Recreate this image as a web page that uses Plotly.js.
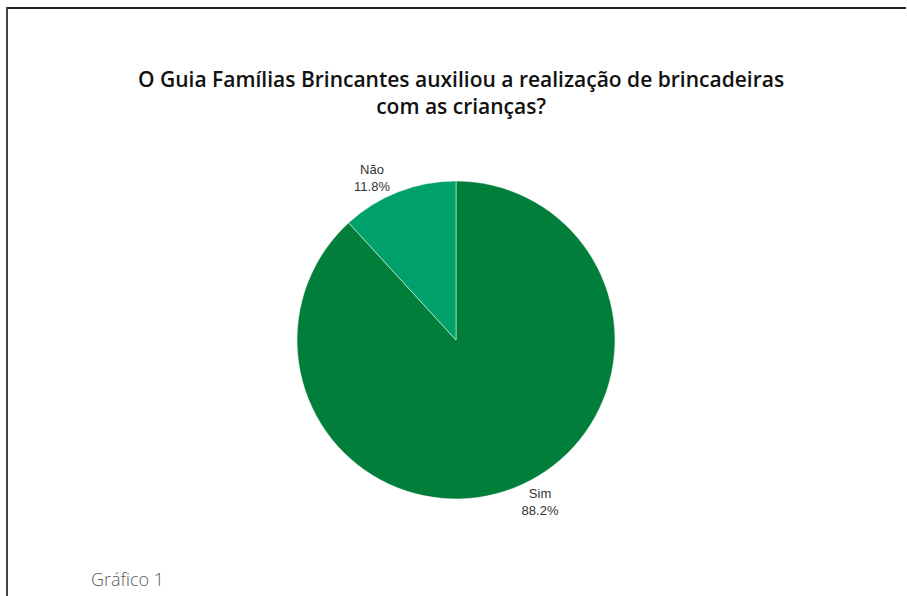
<!DOCTYPE html>
<html>
<head>
<meta charset="utf-8">
<script src="https://cdn.plot.ly/plotly-3.0.1.min.js"></script>
<style>html,body{margin:0;padding:0;background:#fff;}#chart{width:907px;height:596px;}</style>
</head>
<body>
<div id="chart"></div>
<script>
const labels = ["Sim", "Não"];
const values = [88.2, 11.8];
const colors = ["#017f3a", "#00a06a"];
const titleText = "O Guia Famílias Brincantes auxiliou a realização de brincadeiras<br>com as crianças?";
const captionText = "Gráfico 1";

const W = 907, H = 596;
const cx = 456, cy = 340, r = 159;

const trace = {
  type: "pie",
  labels: labels,
  values: values,
  sort: false,
  direction: "clockwise",
  rotation: 0,
  marker: {colors: colors, line: {color: "#ffffff", width: 0.5}},
  textposition: "outside",
  texttemplate: "%{label}<br>%{percent:.1%}",
  textfont: {family: "Liberation Sans, Arial, sans-serif", size: 13, color: "#333333"},
  showlegend: false,
  hoverinfo: "none",
  domain: {x: [(cx - r) / W, (cx + r) / W], y: [(H - cy - r) / H, (H - cy + r) / H]},
  automargin: false
};

const layout = {
  width: W, height: H,
  margin: {l: 0, r: 0, t: 0, b: 0},
  paper_bgcolor: "#ffffff",
  plot_bgcolor: "#ffffff",
  showlegend: false,
  annotations: [
    {text: titleText, xref: "paper", yref: "paper", x: 461 / W, y: (H - 92) / H,
     xanchor: "center", yanchor: "middle", showarrow: false, align: "center",
     font: {family: "Open Sans, sans-serif", size: 21, color: "#111111", weight: 600}},
    {text: captionText, xref: "paper", yref: "paper", x: 89 / W, y: (H - 579) / H,
     xanchor: "left", yanchor: "middle", showarrow: false,
     font: {family: "Open Sans, sans-serif", size: 18, color: "#5a5a5a", weight: 300}}
  ],
  shapes: [
    {type: "line", xref: "paper", yref: "paper", x0: 7 / W, x1: 906 / W, y0: (H - 8) / H, y1: (H - 8) / H,
     line: {color: "#222222", width: 2}},
    {type: "line", xref: "paper", yref: "paper", x0: 7 / W, x1: 7 / W, y0: (H - 7) / H, y1: 0,
     line: {color: "#444444", width: 2}}
  ]
};

Plotly.newPlot("chart", [trace], layout, {displayModeBar: false, staticPlot: true});
</script>
</body>
</html>
